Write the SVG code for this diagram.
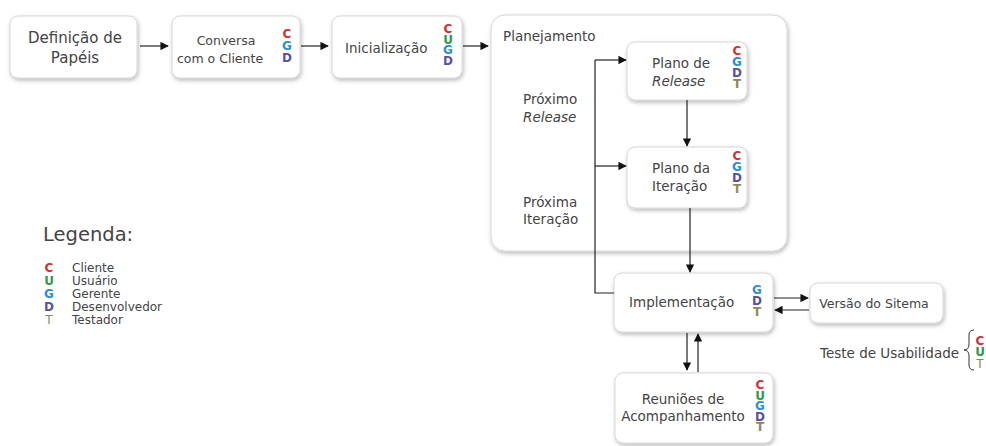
<svg xmlns="http://www.w3.org/2000/svg" width="986" height="446" viewBox="0 0 986 446">
  <defs>
    <filter id="shadow" x="-10%" y="-10%" width="125%" height="130%">
      <feDropShadow dx="1" dy="2" stdDeviation="2" flood-color="#000" flood-opacity="0.28"/>
    </filter>
    <marker id="arrow" viewBox="0 0 10 10" refX="9" refY="5" markerWidth="7" markerHeight="7" orient="auto">
      <path d="M0,0 L10,5 L0,10 z" fill="#111"/>
    </marker>
  </defs>
  <style>
    .box { fill: #fff; stroke: #d6d6d6; stroke-width: 1; filter: url(#shadow); }
    .t { font-family: "DejaVu Sans", Verdana, sans-serif; font-size: 13.5px; fill: #444; }
    .big { font-size: 15px; }
    .sm { font-size: 12.5px; }
    .leg { font-size: 12px; }
    .it { font-style: italic; }
    .r { font-family: "DejaVu Sans", Verdana, sans-serif; font-size: 12px; font-weight: bold; text-anchor: middle; }
    .C { fill: #cc3333; }
    .U { fill: #2e9a46; }
    .G { fill: #2f8fcf; }
    .D { fill: #5b4f9e; }
    .T { fill: #8c8a52; }
    .line { fill: none; stroke: #222; stroke-width: 1.2; }
    .arr { fill: none; stroke: #222; stroke-width: 1.2; marker-end: url(#arrow); }
  </style>
  <rect width="986" height="446" fill="#fff"/>

  <!-- Planning container -->
  <g id="planejamento">
    <rect class="box" x="491" y="15" width="296" height="236" rx="14"/>
    <text class="t" x="503" y="41">Planejamento</text>
    <text class="t" x="523" y="104">Próximo</text>
    <text class="t it" x="523" y="122">Release</text>
    <text class="t" x="523" y="207">Próxima</text>
    <text class="t" x="523" y="224">Iteração</text>
  </g>

  <g id="definicao">
    <rect class="box" x="10" y="16" width="127" height="62" rx="8"/>
    <text class="t big" x="75" y="43" text-anchor="middle">Definição de</text>
    <text class="t big" x="75" y="63" text-anchor="middle">Papéis</text>
  </g>

  <g id="conversa">
    <rect class="box" x="172" y="16" width="128" height="62" rx="8"/>
    <text class="t sm" x="226" y="45" text-anchor="middle">Conversa</text>
    <text class="t sm" x="220" y="63" text-anchor="middle">com o Cliente</text>
    <text class="r C" x="287" y="38">C</text>
    <text class="r G" x="287" y="50">G</text>
    <text class="r D" x="287" y="62">D</text>
  </g>

  <g id="inicializacao">
    <rect class="box" x="332" y="16" width="130" height="62" rx="8"/>
    <text class="t" x="345" y="53">Inicialização</text>
    <text class="r C" x="448" y="33">C</text>
    <text class="r U" x="448" y="43.5">U</text>
    <text class="r G" x="448" y="54">G</text>
    <text class="r D" x="448" y="64.5">D</text>
  </g>

  <g id="plano-release">
    <rect class="box" x="627" y="42" width="120" height="58" rx="8"/>
    <text class="t" x="652" y="68">Plano de</text>
    <text class="t it" x="652" y="86">Release</text>
    <text class="r C" x="737" y="55">C</text>
    <text class="r G" x="737" y="66">G</text>
    <text class="r D" x="737" y="77">D</text>
    <text class="r T" x="737" y="88">T</text>
  </g>

  <g id="plano-iteracao">
    <rect class="box" x="627" y="147" width="120" height="61" rx="8"/>
    <text class="t" x="652" y="173">Plano da</text>
    <text class="t" x="652" y="191">Iteração</text>
    <text class="r C" x="737" y="160">C</text>
    <text class="r G" x="737" y="171">G</text>
    <text class="r D" x="737" y="182">D</text>
    <text class="r T" x="737" y="193">T</text>
  </g>

  <g id="implementacao">
    <rect class="box" x="614" y="273" width="159" height="59" rx="8"/>
    <text class="t" x="629" y="307">Implementação</text>
    <text class="r G" x="757" y="294">G</text>
    <text class="r D" x="757" y="305">D</text>
    <text class="r T" x="757" y="316">T</text>
  </g>

  <g id="versao">
    <rect class="box" x="810" y="283" width="133" height="40" rx="8"/>
    <text class="t sm" x="874" y="308" text-anchor="middle">Versão do Sitema</text>
  </g>

  <g id="reunioes">
    <rect class="box" x="615" y="373" width="158" height="70" rx="8"/>
    <text class="t" x="683" y="404" text-anchor="middle">Reuniões de</text>
    <text class="t" x="683" y="421" text-anchor="middle">Acompanhamento</text>
    <text class="r C" x="760" y="389">C</text>
    <text class="r U" x="760" y="399.5">U</text>
    <text class="r G" x="760" y="410">G</text>
    <text class="r D" x="760" y="420.5">D</text>
    <text class="r T" x="760" y="431">T</text>
  </g>

  <g id="teste-usabilidade">
    <text class="t" x="820" y="358">Teste de Usabilidade</text>
    <path d="M974,330 q-5,0 -5,5 v9 q0,6 -5,6 q5,0 5,6 v9 q0,5 5,5" fill="none" stroke="#333" stroke-width="1"/>
    <text class="r C" x="980" y="345">C</text>
    <text class="r U" x="980" y="356">U</text>
    <text class="r T" x="980" y="368" style="font-weight:normal">T</text>
  </g>

  <g id="legenda">
    <text class="t" x="43" y="241" style="font-size:19.5px">Legenda:</text>
    <text class="r C" x="49" y="272">C</text>
    <text class="t leg" x="72" y="272">Cliente</text>
    <text class="r U" x="49" y="285">U</text>
    <text class="t leg" x="72" y="285">Usuário</text>
    <text class="r G" x="49" y="298">G</text>
    <text class="t leg" x="72" y="298">Gerente</text>
    <text class="r D" x="49" y="311">D</text>
    <text class="t leg" x="72" y="311">Desenvolvedor</text>
    <text class="r T" x="49" y="324" style="font-weight:normal">T</text>
    <text class="t leg" x="72" y="324">Testador</text>
  </g>

  <g id="connectors">
    <path class="arr" d="M140,46 H168"/>
    <path class="arr" d="M301,46 H328"/>
    <path class="arr" d="M463,46 H488"/>
    <path class="line" d="M614,293 H595 V60"/>
    <path class="arr" d="M595,60 H626"/>
    <path class="arr" d="M595,166 H626"/>
    <path class="arr" d="M687,100 V146"/>
    <path class="arr" d="M690,208 V272"/>
    <path class="arr" d="M774,298 H808"/>
    <path class="arr" d="M809,310 H775"/>
    <path class="arr" d="M687,333 V370"/>
    <path class="arr" d="M698,372 V334"/>
  </g>
</svg>
